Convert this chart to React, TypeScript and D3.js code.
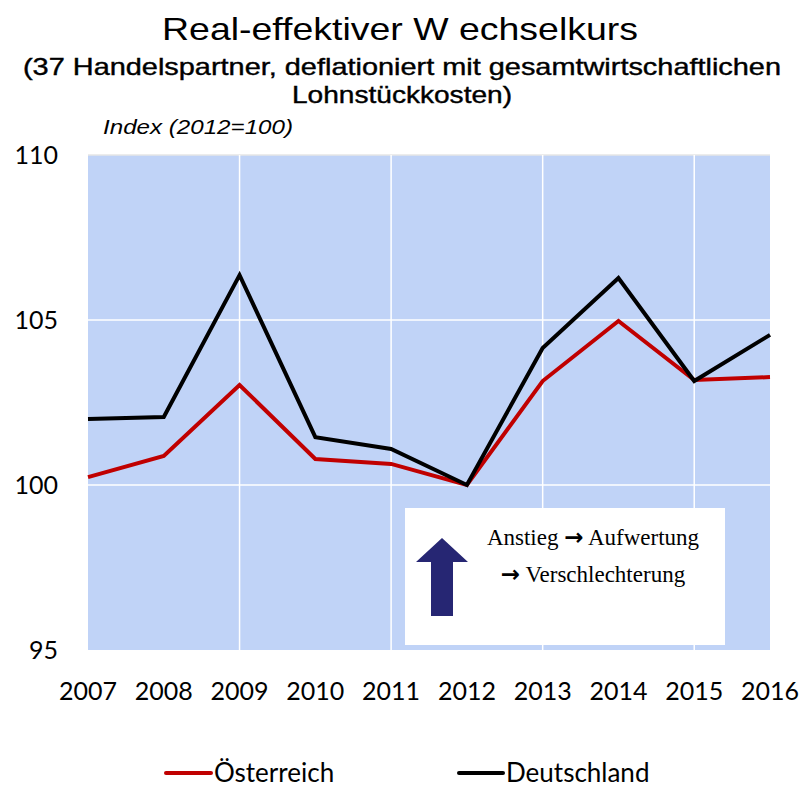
import React from "react";
import * as d3 from "d3";

const years = [2007, 2008, 2009, 2010, 2011, 2012, 2013, 2014, 2015, 2016];
const oesterreich = [100.24, 100.88, 103.03, 100.79, 100.64, 100.0, 103.15, 104.97, 103.18, 103.27];
const deutschland = [102.0, 102.06, 106.36, 101.45, 101.09, 100.0, 104.15, 106.27, 103.15, 104.55];
const yTicks = [95, 100, 105, 110];
const vGridYears = [2009, 2011, 2013, 2015];
const seriesNames = ["Österreich", "Deutschland"];

const W = 804, H = 788;
const L = 88, R = 770, T = 155, B = 650;

export default function App() {
  const x = d3.scaleLinear().domain([2007, 2016]).range([L, R]);
  const y = d3.scaleLinear().domain([95, 110]).range([B, T]);
  const line = d3.line<number>().x((_, i) => x(years[i])).y((v) => y(v));
  const narrow = "'Liberation Sans Narrow', 'Arial Narrow', 'Liberation Sans', Arial, sans-serif";
  const calib = "Lato, 'Open Sans', sans-serif";
  const serif = "'Liberation Serif', 'DejaVu Serif', serif";
  const arrowPath = "M 8 0 L 30 0 L 30 -54 L 45 -54 L 19 -78 L -7 -54 L 8 -54 Z";
  return (
    <svg width={W} height={H} style={{ position: "absolute", left: 0, top: 0 }}>
      <rect x={0} y={0} width={W} height={H} fill="#fff" />
      <text x={400} y={40} textAnchor="middle" fontFamily={narrow} fontSize={32} textLength={476} lengthAdjust="spacingAndGlyphs">Real-effektiver W echselkurs</text>
      <text x={402} y={75} textAnchor="middle" fontFamily={narrow} fontSize={24} stroke="#000" strokeWidth={0.4} textLength={758} lengthAdjust="spacingAndGlyphs">(37 Handelspartner, deflationiert mit gesamtwirtschaftlichen</text>
      <text x={402} y={103} textAnchor="middle" fontFamily={narrow} fontSize={24} stroke="#000" strokeWidth={0.4} textLength={220} lengthAdjust="spacingAndGlyphs">Lohnstückkosten)</text>
      <text x={103} y={134} fontFamily={narrow} fontSize={21} fontStyle="italic" textLength={190} lengthAdjust="spacingAndGlyphs">Index (2012=100)</text>

      <rect x={L} y={T} width={R - L} height={B - T} fill="#c0d3f7" />
      <line x1={L} x2={R} y1={y(110)} y2={y(110)} stroke="#e6e6e6" strokeWidth={1.5} />
      {yTicks.filter((t) => t !== 95 && t !== 110).map((t) => (
        <line key={t} x1={L} x2={R} y1={y(t)} y2={y(t)} stroke="#fff" strokeWidth={1.5} />
      ))}
      {vGridYears.map((yr) => (
        <line key={yr} x1={x(yr)} x2={x(yr)} y1={T} y2={B} stroke="#fff" strokeWidth={1.5} />
      ))}

      {yTicks.map((t) => (
        <text key={t} x={58} y={y(t) + 9} textAnchor="end" fontFamily={calib} fontSize={25}>{t}</text>
      ))}
      {years.map((yr) => (
        <text key={yr} x={x(yr)} y={700} textAnchor="middle" fontFamily={calib} fontSize={25}>{yr}</text>
      ))}

      <path d={line(oesterreich) || ""} fill="none" stroke="#c00000" strokeWidth={4} strokeLinejoin="miter" />
      <path d={line(deutschland) || ""} fill="none" stroke="#000" strokeWidth={4} strokeLinejoin="miter" />

      <rect x={405} y={508} width={320} height={137} fill="#fff" />
      <path d={arrowPath} transform="translate(423,616)" fill="#262673" />
      <text x={593} y={545} textAnchor="middle" fontFamily={serif} fontSize={23}>
        Anstieg <tspan fontFamily="'DejaVu Sans', sans-serif" fontWeight="bold">→</tspan> Aufwertung
      </text>
      <text x={593} y={582} textAnchor="middle" fontFamily={serif} fontSize={23}>
        <tspan fontFamily="'DejaVu Sans', sans-serif" fontWeight="bold">→</tspan> Verschlechterung
      </text>

      <line x1={166} x2={211} y1={773} y2={773} stroke="#c00000" strokeWidth={4} strokeLinecap="round" />
      <text x={214} y={782} fontFamily={calib} fontSize={26}>{seriesNames[0]}</text>
      <line x1={459} x2={503} y1={773} y2={773} stroke="#000" strokeWidth={4} strokeLinecap="round" />
      <text x={506} y={782} fontFamily={calib} fontSize={26}>{seriesNames[1]}</text>
    </svg>
  );
}
